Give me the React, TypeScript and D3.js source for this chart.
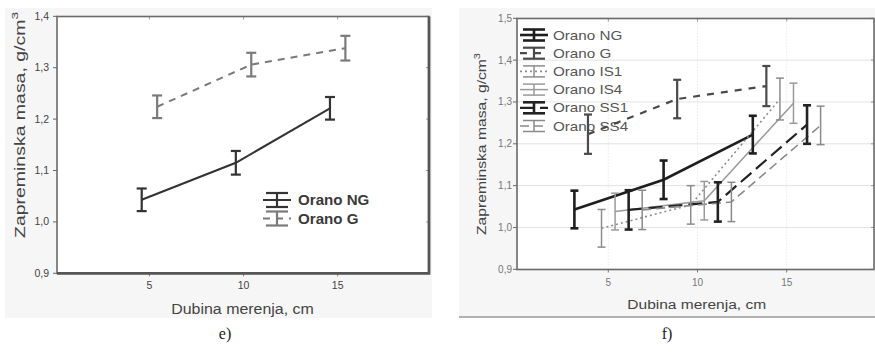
import React from "react";
import * as d3 from "d3";

// ---------- DATA ----------
const depths = [5, 10, 15];

const seriesE = ["Orano NG", "Orano G"];
const eMeanNG = [1.043, 1.115, 1.221];
const eErrNG = [0.022, 0.023, 0.022];
const eMeanG = [1.224, 1.306, 1.338];
const eErrG = [0.022, 0.023, 0.024];

const seriesF = ["Orano NG", "Orano G", "Orano IS1", "Orano IS4", "Orano SS1", "Orano SS4"];
const fMeanNG = [1.043, 1.114, 1.222];
const fErrNG = [0.045, 0.046, 0.045];
const fMeanG = [1.223, 1.307, 1.338];
const fErrG = [0.047, 0.046, 0.048];
const fMeanIS1 = [0.998, 1.054, 1.307];
const fErrIS1 = [0.045, 0.046, 0.05];
const fMeanIS4 = [1.038, 1.064, 1.297];
const fErrIS4 = [0.044, 0.046, 0.048];
const fMeanSS1 = [1.042, 1.061, 1.246];
const fErrSS1 = [0.047, 0.047, 0.046];
const fMeanSS4 = [1.042, 1.061, 1.244];
const fErrSS4 = [0.047, 0.047, 0.046];

const yTicksE = [0.9, 1.0, 1.1, 1.2, 1.3, 1.4];
const yTicksF = [0.9, 1.0, 1.1, 1.2, 1.3, 1.4, 1.5];
const xTicks = [5, 10, 15];

const xTitle = "Dubina merenja, cm";
const yTitle = "Zapreminska masa, g/cm";
const captions = ["e)", "f)"];

// ---------- STYLE ----------
type St = { stroke: string; width: number; dash?: string; bar: number };
const stylesE: Record<string, St> = {
  "Orano NG": { stroke: "#333", width: 2, bar: 2.2 },
  "Orano G": { stroke: "#7a7a7a", width: 2, dash: "7,6", bar: 2.2 },
};
const stylesF: Record<string, St> = {
  "Orano NG": { stroke: "#1e1e1e", width: 2.6, bar: 2.6 },
  "Orano G": { stroke: "#4a4a4a", width: 2.2, dash: "7,7", bar: 2.2 },
  "Orano IS1": { stroke: "#8c8c8c", width: 1.6, dash: "2,3", bar: 1.5 },
  "Orano IS4": { stroke: "#9a9a9a", width: 1.5, bar: 1.5 },
  "Orano SS1": { stroke: "#222", width: 2.2, dash: "14,6", bar: 2.6 },
  "Orano SS4": { stroke: "#8a8a8a", width: 1.6, dash: "9,5", bar: 1.5 },
};

const fmt = d3
  .formatLocale({ decimal: ",", thousands: ".", grouping: [3], currency: ["", ""] })
  .format(".1f");

const FONT = "'Liberation Sans', Arial, sans-serif";

type Pt = { s: string; d: number; m: number; e: number };

function buildPoints(series: string[], means: number[][], errs: number[][]): Pt[][] {
  return series.map((s, i) => depths.map((d, j) => ({ s, d, m: means[i][j], e: errs[i][j] })));
}

type PanelCfg = {
  key: string;
  bg: [number, number, number, number];
  plot: [number, number, number, number]; // left, top, right, bottom
  xRange: [number, number];
  yDomain: [number, number];
  yRange: [number, number];
  yTicks: number[];
  offRange: [number, number];
  series: string[];
  data: Pt[][];
  styles: Record<string, St>;
  cap: number;
  tickFont: number;
  tickColor: string;
  yLabelX: number;
  xLabelY: number;
  xTitleX: number;
  xTitleY: number;
  xTitleSize: number;
  xTitleScale: number;
  yTitleX: number;
  yTitleY: number;
  yTitleSize: number;
  yTitleLen: number;
  legendX: number;
  legendTextX: number;
  legendY0: number;
  legendDy: number;
  legendFont: number;
  legendBold: boolean;
  legendScale: number;
  legendHalf: number;
  grid: boolean;
  frameHeavy: boolean;
  bottomLine: boolean;
  caption: string;
  captionX: number;
};

function Panel({ c }: { c: PanelCfg }) {
  const [pl, pt, pr, pb] = c.plot;
  const x = d3.scaleLinear().domain([0, 20]).range(c.xRange);
  const y = d3.scaleLinear().domain(c.yDomain).range(c.yRange);
  const off = d3.scalePoint<string>().domain(c.series).range(c.offRange);
  const line = d3
    .line<Pt>()
    .x((p) => x(p.d + (off(p.s) as number)))
    .y((p) => y(p.m));

  return (
    <g>
      <rect x={c.bg[0]} y={c.bg[1]} width={c.bg[2]} height={c.bg[3]} fill="#f6f6f6" />
      {c.bottomLine && (
        <line x1={c.bg[0]} x2={c.bg[0] + c.bg[2]} y1={c.bg[1] + c.bg[3]} y2={c.bg[1] + c.bg[3]} stroke="#9a9a9a" strokeWidth={1.5} />
      )}
      <rect x={pl} y={pt} width={pr - pl} height={pb - pt} fill="#fff" />
      {c.grid &&
        c.yTicks.map((t) => (
          <line key={"gy" + t} x1={pl} x2={pr} y1={y(t)} y2={y(t)} stroke="#e2e2e2" strokeWidth={1} />
        ))}
      {c.grid &&
        xTicks.map((t) => (
          <line key={"gx" + t} x1={x(t)} x2={x(t)} y1={pt} y2={pb} stroke="#e0e0e0" strokeWidth={1} strokeDasharray="1,2" />
        ))}
      {/* y ticks */}
      {c.yTicks.map((t) => (
        <g key={"yt" + t}>
          <line x1={pl - 4} x2={pl} y1={y(t)} y2={y(t)} stroke="#666" strokeWidth={1} />
          <line x1={pr - 3} x2={pr} y1={y(t)} y2={y(t)} stroke="#999" strokeWidth={1} />
          <text x={c.yLabelX} y={y(t) + 3.5} textAnchor="end" fontSize={c.tickFont} fill={c.tickColor} fontFamily={FONT}>
            {fmt(t)}
          </text>
        </g>
      ))}
      {/* x ticks */}
      {xTicks.map((t) => (
        <g key={"xt" + t}>
          <line x1={x(t)} x2={x(t)} y1={pb} y2={pb + 3} stroke="#777" strokeWidth={1} />
          <line x1={x(t)} x2={x(t)} y1={pt} y2={pt + 3} stroke="#999" strokeWidth={1} />
          <text x={x(t)} y={c.xLabelY} textAnchor="middle" fontSize={c.tickFont} fill={c.tickColor} fontFamily={FONT}>
            {t}
          </text>
        </g>
      ))}
      {/* frame */}
      <rect x={pl} y={pt} width={pr - pl} height={pb - pt} fill="none" stroke="#6a6a6a" strokeWidth={1.6} />
      {c.frameHeavy && (
        <path d={`M${pl},${pb} H${pr} V${pt}`} fill="none" stroke="#555" strokeWidth={2.8} />
      )}
      {/* titles */}
      <text
        transform={`translate(${c.xTitleX},${c.xTitleY}) scale(${c.xTitleScale},1)`}
        textAnchor="middle"
        fontSize={c.xTitleSize}
        fill="#444"
        fontFamily={FONT}
      >
        {xTitle}
      </text>
      <text
        transform={`translate(${c.yTitleX},${c.yTitleY}) rotate(-90)`}
        textAnchor="start"
        fontSize={c.yTitleSize}
        fill="#444"
        fontFamily={FONT}
        textLength={c.yTitleLen}
        lengthAdjust="spacingAndGlyphs"
      >
        {yTitle}
        <tspan dy={-c.yTitleSize * 0.45} fontSize={c.yTitleSize * 0.7}>3</tspan>
      </text>
      {/* legend */}
      {c.series.map((s, i) => {
        const st = c.styles[s];
        const cy = c.legendY0 + i * c.legendDy;
        const lx0 = c.legendX;
        const lx1 = c.legendX + 28;
        const mid = (lx0 + lx1) / 2;
        const h = c.legendHalf;
        return (
          <g key={"lg" + s}>
            <line x1={lx0} x2={lx1} y1={cy} y2={cy} stroke={st.stroke} strokeWidth={st.width} strokeDasharray={st.dash} />
            <line x1={mid} x2={mid} y1={cy - h} y2={cy + h} stroke={st.stroke} strokeWidth={st.bar} />
            <line x1={lx0 + 3} x2={lx1 - 3} y1={cy - h} y2={cy - h} stroke={st.stroke} strokeWidth={st.bar} />
            <line x1={lx0 + 3} x2={lx1 - 3} y1={cy + h} y2={cy + h} stroke={st.stroke} strokeWidth={st.bar} />
            <text
              transform={`translate(${c.legendTextX},${cy + c.legendFont * 0.36}) scale(${c.legendScale},1)`}
              fontSize={c.legendFont}
              fontWeight={c.legendBold ? "bold" : "normal"}
              fill={c.legendBold ? "#3a3a3a" : "#555"}
              fontFamily={FONT}
            >
              {s}
            </text>
          </g>
        );
      })}
      {/* series lines */}
      {c.data.map((pts) => {
        const st = c.styles[pts[0].s];
        return (
          <path
            key={"ln" + pts[0].s}
            d={line(pts) as string}
            fill="none"
            stroke={st.stroke}
            strokeWidth={st.width}
            strokeDasharray={st.dash}
          />
        );
      })}
      {/* error bars */}
      {c.data.map((pts) =>
        pts.map((p) => {
          const st = c.styles[p.s];
          const cx = x(p.d + (off(p.s) as number));
          const y0 = y(p.m - p.e);
          const y1 = y(p.m + p.e);
          return (
            <g key={"eb" + p.s + p.d} stroke={st.stroke} strokeWidth={st.bar}>
              <line x1={cx} x2={cx} y1={y0} y2={y1} />
              <line x1={cx - c.cap} x2={cx + c.cap} y1={y0} y2={y0} />
              <line x1={cx - c.cap} x2={cx + c.cap} y1={y1} y2={y1} />
            </g>
          );
        })
      )}
      <text x={c.captionX} y={339} textAnchor="middle" fontSize={16} fill="#222" fontFamily="'Liberation Serif', 'Times New Roman', serif">
        {c.caption}
      </text>
    </g>
  );
}

export default function App() {
  const dataE = buildPoints(seriesE, [eMeanNG, eMeanG], [eErrNG, eErrG]);
  const dataF = buildPoints(
    seriesF,
    [fMeanNG, fMeanG, fMeanIS1, fMeanIS4, fMeanSS1, fMeanSS4],
    [fErrNG, fErrG, fErrIS1, fErrIS4, fErrSS1, fErrSS4]
  );

  const left: PanelCfg = {
    key: "e",
    bg: [5, 8, 427, 310],
    plot: [57, 16.5, 429, 273.3],
    xRange: [55.3, 431.8],
    yDomain: [0.9, 1.4],
    yRange: [273.3, 16.3],
    yTicks: yTicksE,
    offRange: [-0.41, 0.41],
    series: seriesE,
    data: dataE,
    styles: stylesE,
    cap: 5,
    tickFont: 10.5,
    tickColor: "#444",
    yLabelX: 49,
    xLabelY: 289,
    xTitleX: 242.5,
    xTitleY: 313.5,
    xTitleSize: 14.5,
    xTitleScale: 1.1,
    yTitleX: 24.5,
    yTitleY: 238,
    yTitleSize: 14,
    yTitleLen: 226,
    legendX: 263,
    legendTextX: 298,
    legendY0: 200,
    legendDy: 18.5,
    legendFont: 14,
    legendBold: true,
    legendScale: 1.08,
    legendHalf: 7,
    grid: false,
    frameHeavy: true,
    bottomLine: false,
    caption: captions[0],
    captionX: 225,
  };

  const right: PanelCfg = {
    key: "f",
    bg: [459, 8, 416, 309],
    plot: [517, 18.5, 874, 269.5],
    xRange: [519.1, 875.9],
    yDomain: [0.9, 1.5],
    yRange: [269.3, 18.3],
    yTicks: yTicksF,
    offRange: [-1.9, 1.9],
    series: seriesF,
    data: dataF,
    styles: stylesF,
    cap: 4,
    tickFont: 10,
    tickColor: "#777",
    yLabelX: 512,
    xLabelY: 286,
    xTitleX: 696.7,
    xTitleY: 309,
    xTitleSize: 13.5,
    xTitleScale: 1.15,
    yTitleX: 485.5,
    yTitleY: 235,
    yTitleSize: 12.5,
    yTitleLen: 182,
    legendX: 520,
    legendTextX: 553,
    legendY0: 35,
    legendDy: 18.2,
    legendFont: 13,
    legendBold: false,
    legendScale: 1.17,
    legendHalf: 5.5,
    grid: true,
    frameHeavy: false,
    bottomLine: true,
    caption: captions[1],
    captionX: 667,
  };

  return (
    <svg
      width={875}
      height={359}
      viewBox="0 0 875 359"
      style={{ position: "absolute", left: 0, top: 0, background: "#fff" }}
    >
      <Panel c={left} />
      <Panel c={right} />
    </svg>
  );
}
